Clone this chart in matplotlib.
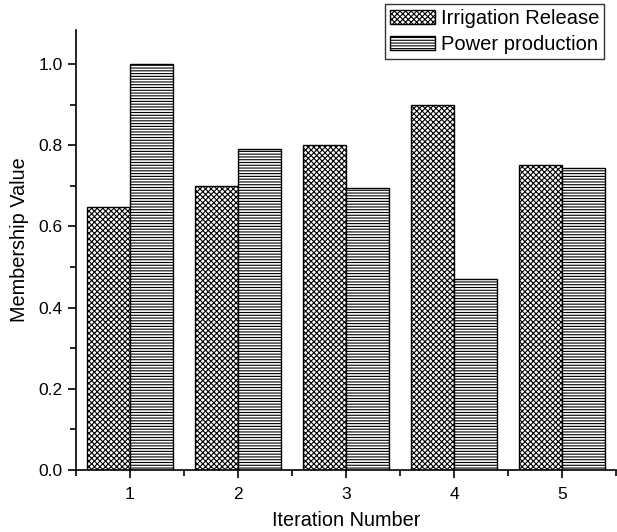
import matplotlib
matplotlib.use("Agg")
import matplotlib.pyplot as plt
import numpy as np
from matplotlib.ticker import MultipleLocator

iterations = [1, 2, 3, 4, 5]
irrigation = [0.648, 0.700, 0.800, 0.900, 0.752]
power = [1.000, 0.790, 0.695, 0.470, 0.743]

plt.rcParams['font.family'] = ['Liberation Sans', 'DejaVu Sans']
plt.rcParams['hatch.linewidth'] = 0.8

fig = plt.figure(figsize=(6.17, 5.32), dpi=100)
ax = fig.add_axes([76 / 617, (532 - 470) / 532, 540 / 617, 440 / 532])

x = np.array(iterations)
w = 0.4
ax.bar(x - w / 2, irrigation, width=w, facecolor='white', edgecolor='black',
       hatch='xxxxxx', linewidth=1.0, label='Irrigation Release')
ax.bar(x + w / 2, power, width=w, facecolor='white', edgecolor='black',
       hatch='------', linewidth=1.0, label='Power production')

ax.set_xlim(0.5, 5.5)
ax.set_ylim(0, 1.084)
ax.set_xticks(iterations)
ax.xaxis.set_minor_locator(MultipleLocator(0.5))
ax.yaxis.set_major_locator(MultipleLocator(0.2))
ax.yaxis.set_minor_locator(MultipleLocator(0.1))
ax.set_yticklabels([f"{v:.1f}" for v in ax.get_yticks()])
ax.tick_params(axis='both', which='major', direction='out', length=6, width=1.2,
               labelsize=12.5, colors='black')
ax.tick_params(axis='x', which='major', pad=6)
ax.tick_params(axis='both', which='minor', direction='out', length=4, width=1.2)
for side in ['top', 'right']:
    ax.spines[side].set_visible(False)
for side in ['left', 'bottom']:
    ax.spines[side].set_linewidth(1.2)

ax.set_xlabel("Iteration Number", fontsize=14.3)
ax.set_ylabel("Membership Value", fontsize=14.3)
ax.xaxis.set_label_coords(0.5, -0.093)
ax.yaxis.set_label_coords(-0.087, (470 - 240) / 440)

leg = ax.legend(loc='upper right', bbox_to_anchor=(604 / 617, 1 - 4 / 532),
                bbox_transform=fig.transFigure, fontsize=14.5, frameon=True,
                fancybox=False, edgecolor='black', handlelength=2.2,
                handleheight=0.75, handletextpad=0.3, borderpad=0.25,
                labelspacing=0.35, borderaxespad=0)
leg.get_frame().set_linewidth(1.0)

fig.savefig("out.png", dpi=100)
